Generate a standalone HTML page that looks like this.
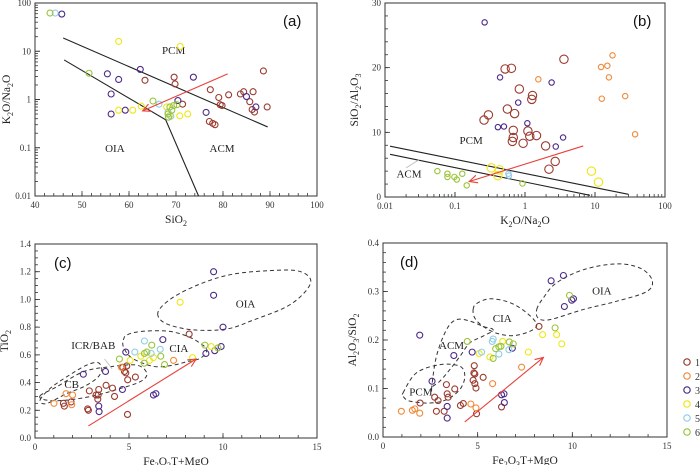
<!DOCTYPE html>
<html><head><meta charset="utf-8"><style>
html,body{margin:0;padding:0;background:#fff;}
svg{display:block;font-family:"Liberation Serif",serif;}
</style></head><body>
<svg id="fig" width="700" height="465" viewBox="0 0 700 465" xmlns="http://www.w3.org/2000/svg"></svg>
<script>
// ---------- Panel (a) data: SiO2 vs K2O/Na2O ----------
const a_x1=[63.4,69.6,69.8,71.4,77.3,79.1,79.4,79.8,81.2,83.7,84.4,85.7,86.4,86.2,86.7,88.6,89.4,77.1,77.8,78.3];
const a_y1=[2.5,2.9,2.1,0.8,1.6,1.1,0.78,0.75,1.25,1.3,1.45,0.9,1.45,0.62,0.55,3.9,0.7,0.35,0.32,0.3];
const a_x3=[45.7,55.4,57.8,62.4,56.2,56.2,59.2,73.7,70.4,76.4,85.0,87.0];
const a_y3=[59,3.4,2.6,4.2,1.3,0.5,0.6,2.9,0.95,0.54,1.15,0.7];
const a_x4=[57.8,70.9,57.8,60.8,62.6,68.7,70.8,72.5,68.0];
const a_y4=[16,12.6,0.6,0.6,0.73,0.47,0.46,0.5,0.7];
const a_x5=[44.3,66.4,68.9,68.3];
const a_y5=[62,0.8,0.45,0.55];
const a_x6=[43.2,51.5,65.1,68.7,69.5,70.2,68.3,68.4,69.1];
const a_y6=[62,3.5,0.93,0.7,0.75,0.78,0.5,0.43,0.6];
const a_xticks=[40,50,60,70,80,90,100];
const a_yticks=[0.01,0.1,1,10,100];
const a_ylabels=["0.01","0.1","1","10","100"];
// ---------- Panel (b) data: K2O/Na2O vs SiO2/Al2O3 ----------
const b_x1=[0.52,0.64,3.6,0.83,1.28,1.25,0.56,0.71,0.30,0.26,0.68,1.1,1.17,1.46,0.68,0.66,0.94,1.97,2.7,2.2];
const b_y1=[19.8,19.9,21.3,16.7,15.7,15.1,13.6,12.9,12.7,11.9,10.3,10.2,9.4,9.5,9.2,8.6,8.3,7.9,5.5,4.3];
const b_x2=[1.55,12.2,15.0,17.8,15.8,12.5,27,37.4];
const b_y2=[18.2,20.1,20.3,21.9,18.5,15.2,15.6,9.7];
const b_x3=[0.265,0.44,2.4,0.8,0.41,0.5,1.08,3.5,2.75];
const b_y3=[27.0,18.5,17.7,14.6,10.8,10.9,11.4,9.2,7.8];
const b_x4=[0.33,0.43,0.41,8.9,11.2];
const b_y4=[4.5,4.2,3.3,4.0,2.3];
const b_x5=[0.58,0.59];
const b_y5=[3.6,3.3];
const b_x6=[0.056,0.078,0.078,0.098,0.106,0.127,0.147,0.92];
const b_y6=[4.0,3.6,3.1,3.1,2.7,3.6,1.8,2.1];
const b_xticks=[0.01,0.1,1,10,100];
const b_xlabels=["0.01","0.1","1","10","100"];
const b_yticks=[0,10,20,30];
// ---------- Panel (c) data: Fe2O3T+MgO vs TiO2 ----------
const c_x1=[8.2,4.67,4.88,4.76,4.83,4.93,5.34,3.78,4.12,4.23,3.39,3.36,3.25,3.34,2.89,2.80,2.84,1.51,1.56,1.92,4.92];
const c_y1=[0.75,0.51,0.52,0.48,0.47,0.42,0.44,0.38,0.36,0.30,0.35,0.31,0.31,0.28,0.34,0.21,0.20,0.25,0.23,0.26,0.17];
const c_x2=[1.01,1.65,2.0,1.95,7.37,4.6];
const c_y2=[0.25,0.32,0.31,0.24,0.56,0.51];
const c_x3=[9.5,9.5,10.0,6.8,4.83,2.57,3.75,4.65,3.39,3.41,6.3,6.43,9.09,9.56,9.9];
const c_y3=[1.20,1.03,0.80,0.71,0.62,0.46,0.48,0.35,0.23,0.19,0.31,0.32,0.61,0.63,0.66];
const c_x4=[7.72,8.38,5.06,5.63,6.3,6.09,9.37];
const c_y4=[0.98,0.58,0.56,0.59,0.58,0.56,0.66];
const c_x5=[5.31,5.82,6.66,6.18];
const c_y5=[0.62,0.70,0.64,0.61];
const c_x6=[4.49,5.82,5.95,6.21,5.81,6.69,6.89,9.04,9.73];
const c_y6=[0.57,0.61,0.62,0.67,0.54,0.59,0.53,0.67,0.65];
const c_xticks=[0,5,10,15];
const c_yticks=[0,0.2,0.4,0.6,0.8,1.0,1.2,1.4];
const c_ylabels=["0.0","0.2","0.4","0.6","0.8","1.0","1.2","1.4"];
// ---------- Panel (d) data: Fe2O3T+MgO vs Al2O3/SiO2 ----------
const d_x1=[8.24,2.73,2.91,1.96,2.82,3.23,3.35,3.39,3.44,3.79,4.09,4.24,4.82,4.80,4.85,4.76,4.85,4.91,5.29,4.94,6.26];
const d_y1=[0.228,0.082,0.075,0.070,0.053,0.053,0.108,0.089,0.082,0.099,0.065,0.069,0.147,0.132,0.130,0.117,0.110,0.101,0.123,0.048,0.062];
const d_x2=[0.97,1.55,1.68,1.94,4.64,4.91,5.79,7.32];
const d_y2=[0.053,0.055,0.058,0.049,0.068,0.060,0.110,0.144];
const d_x3=[1.94,2.59,3.74,4.71,3.39,3.39,6.26,6.39,6.41,6.83,8.88,9.53,9.58,9.97,10.06];
const d_y3=[0.210,0.115,0.168,0.175,0.063,0.039,0.087,0.089,0.071,0.183,0.322,0.333,0.269,0.282,0.285];
const d_x4=[5.08,6.32,7.68,8.43,9.17,9.44,5.65];
const d_y4=[0.172,0.197,0.175,0.211,0.211,0.192,0.165];
const d_x5=[5.21,5.77,6.12,6.65,5.82];
const d_y5=[0.175,0.197,0.171,0.180,0.202];
const d_x6=[4.45,5.82,5.95,6.12,6.23,6.67,6.88,9.09,9.85];
const d_y6=[0.197,0.162,0.182,0.186,0.187,0.196,0.192,0.225,0.292];
const d_xticks=[0,5,10,15];
const d_yticks=[0,0.1,0.2,0.3,0.4];
const d_ylabels=["0.0","0.1","0.2","0.3","0.4"];
const legendLabels=["1","2","3","4","5","6"];
const colors=["#9b3a2e","#f08a3a","#4b2a8a","#f0e614","#92cde8","#9ac43a"];

const NS="http://www.w3.org/2000/svg";
const svg=document.getElementById('fig');
function mk(tag,attrs,parent){const e=document.createElementNS(NS,tag);for(const k in attrs)e.setAttribute(k,attrs[k]);(parent||svg).appendChild(e);return e;}
function scale(d0,d1,p0,p1,log){return v=>{if(log){return p0+(Math.log10(v)-Math.log10(d0))/(Math.log10(d1)-Math.log10(d0))*(p1-p0);}return p0+(v-d0)/(d1-d0)*(p1-p0);};}

function panel(cfg){
  const g=mk('g',{});
  
  
  const X=scale(cfg.xd[0],cfg.xd[1],cfg.px[0],cfg.px[1],cfg.xlog);
  const Y=scale(cfg.yd[0],cfg.yd[1],cfg.py[0],cfg.py[1],cfg.ylog);
  const fr=mk('rect',{x:cfg.px[0],y:cfg.py[1],width:cfg.px[1]-cfg.px[0],height:cfg.py[0]-cfg.py[1],fill:'none',stroke:'#333','stroke-width':1},g);
  
  
  const mt=[];
  if(cfg.xlog){for(let d=Math.log10(cfg.xd[0]);d<Math.log10(cfg.xd[1]);d++){for(let m=1;m<10;m++)mt.push(['x',Math.pow(10,d)*m,m==1?5:3]);}}
  else{for(let v=cfg.xd[0];v<=cfg.xd[1]+1e-9;v+=cfg.xminor)mt.push(['x',v,3]);}
  if(cfg.ylog){for(let d=Math.log10(cfg.yd[0]);d<Math.log10(cfg.yd[1]);d++){for(let m=1;m<10;m++)mt.push(['y',Math.pow(10,d)*m,m==1?5:3]);}}
  else{for(let v=cfg.yd[0];v<=cfg.yd[1]+1e-9;v+=cfg.yminor)mt.push(['y',v,3]);}
  cfg.xt.forEach(v=>mt.push(['x',v,5]));cfg.yt.forEach(v=>mt.push(['y',v,5]));
  mt.forEach(t=>{
    if(t[0]=='x'){const x=X(t[1]);const l=mk('line',{x1:x,x2:x,y1:cfg.py[0],y2:cfg.py[0]-t[2],stroke:'#333','stroke-width':0.8},g);}
    else{const y=Y(t[1]);const l=mk('line',{x1:cfg.px[0],x2:cfg.px[0]+t[2],y1:y,y2:y,stroke:'#333','stroke-width':0.8},g);}
  });
  cfg.xt.forEach((v,i)=>{const t=mk('text',{x:X(v),y:cfg.py[0]+12,'font-size':9,'text-anchor':'middle',fill:'#333'},g);t.textContent=cfg.xl?cfg.xl[i]:String(v);});
  cfg.yt.forEach((v,i)=>{const t=mk('text',{x:cfg.px[0]-4,y:Y(v)+3,'font-size':9,'text-anchor':'end',fill:'#333'},g);t.textContent=cfg.yl?cfg.yl[i]:String(v);});
  const xt=mk('text',{x:(cfg.px[0]+cfg.px[1])/2,y:cfg.py[0]+27,'font-size':11.5,'text-anchor':'middle',fill:'#222'},g);
  xt.innerHTML=cfg.xtitle;
  const yc=(cfg.py[0]+cfg.py[1])/2;
  const yt=mk('text',{x:0,y:0,'font-size':11.5,'text-anchor':'middle',fill:'#222',transform:`translate(${cfg.ytx},${yc}) rotate(-90)`},g);
  yt.innerHTML=cfg.ytitle;
  (cfg.lines||[]).forEach(ln=>{const p=mk('polyline',{points:ln.map(q=>X(q[0])+','+Y(q[1])).join(' '),fill:'none',stroke:'#222','stroke-width':1.1},g);});
  (cfg.regions||[]).forEach(r=>{const pts=r.pts.map(q=>[X(q[0]),Y(q[1])]);
    const n=pts.length;let d='M'+pts[0][0]+','+pts[0][1];
    for(let i=0;i<n;i++){const p0=pts[(i-1+n)%n],p1=pts[i],p2=pts[(i+1)%n],p3=pts[(i+2)%n];
      d+=` C${p1[0]+(p2[0]-p0[0])/6},${p1[1]+(p2[1]-p0[1])/6} ${p2[0]-(p3[0]-p1[0])/6},${p2[1]-(p3[1]-p1[1])/6} ${p2[0]},${p2[1]}`;}
    const p=mk('path',{d:d,fill:'none',stroke:'#333','stroke-width':1,'stroke-dasharray':'4,3'},g);
    });
  (cfg.labels||[]).forEach(lb=>{const t=mk('text',{x:X(lb[1]),y:Y(lb[2])+4,'font-size':11,'text-anchor':'middle',fill:'#222'},g);t.textContent=lb[0];});
  cfg.series.forEach((s,i)=>{if(!s)return;const xs=s[0],ys=s[1],r=s[2]||3;
    for(let k=0;k<xs.length;k++){const c=mk('circle',{cx:X(xs[k]),cy:Y(ys[k]),r:r,fill:'none',stroke:colors[i],'stroke-width':1.1},g);
      
      }});
  if(cfg.arrow){const a=cfg.arrow;const x1=X(a[0][0]),y1=Y(a[0][1]),x2=X(a[1][0]),y2=Y(a[1][1]);
    const ang=Math.atan2(y2-y1,x2-x1),L=9;
    const l=mk('line',{x1:x1,y1:y1,x2:x2,y2:y2,stroke:'#e8413a','stroke-width':1.1},g);
    const h=mk('polyline',{points:`${x2-L*Math.cos(ang-0.45)},${y2-L*Math.sin(ang-0.45)} ${x2},${y2} ${x2-L*Math.cos(ang+0.45)},${y2-L*Math.sin(ang+0.45)}`,fill:'none',stroke:'#e8413a','stroke-width':1.1},g);
    }
  const pl=mk('text',{x:cfg.tag[0],y:cfg.tag[1],'font-size':15,'font-family':'Liberation Sans, sans-serif',fill:'#111'},g);
  pl.textContent=cfg.tagText;
  return {X,Y,g};
}
const sub=s=>`<tspan font-size="8" baseline-shift="-3">${s}</tspan>`;

panel({name:'panel-a',px:[35,317],py:[196,3],xd:[40,100],yd:[0.01,100],ylog:true,xminor:2,xt:a_xticks,yt:a_yticks,yl:a_ylabels,
  xtitle:`SiO${sub(2)}`,ytitle:`K${sub(2)}O/Na${sub(2)}O`,ytx:10,
  lines:[[[46.0,18.8],[89.5,0.27]],[[46.2,6.6],[67.8,0.38],[74.8,0.01]]],
  labels:[['PCM',69.5,10.5],['OIA',57,0.1],['ACM',79.8,0.1]],
  series:[[a_x1,a_y1,3],null,[a_x3,a_y3,3],[a_x4,a_y4,3],[a_x5,a_y5,3],[a_x6,a_y6,3]],
  arrow:[[81,3.4],[62.9,0.58]],tag:[283,26],tagText:'(a)'});
const pb=panel({name:'panel-b',px:[385,665],py:[197,3],xd:[0.01,100],yd:[0,30],xlog:true,yminor:2,xt:b_xticks,xl:b_xlabels,yt:b_yticks,
  xtitle:`K${sub(2)}O/Na${sub(2)}O`,ytitle:`SiO${sub(2)}/Al${sub(2)}O${sub(3)}`,ytx:358,
  lines:[[[0.0118,7.86],[30,0.41]],[[0.0118,6.6],[8.5,0.26]]],
  labels:[['PCM',0.17,8.8],['ACM',0.022,3.6]],
  series:[[b_x1,b_y1,4.2],[b_x2,b_y2,2.7],[b_x3,b_y3,2.7],[b_x4,b_y4,4.2],[b_x5,b_y5,2.7],[b_x6,b_y6,2.7]],
  arrow:[[6.8,7.9],[0.16,2.4]],tag:[633,26],tagText:'(b)'});
const pc=panel({name:'panel-c',px:[35,317],py:[438,244],xd:[0,15],yd:[0,1.4],xminor:1,yminor:0.05,xt:c_xticks,yt:c_yticks,yl:c_ylabels,
  xtitle:`Fe${sub(2)}O${sub(3)}T+MgO`,ytitle:`TiO${sub(2)}`,ytx:8,
  regions:[{name:'oia',pts:[[6.53,0.888],[6.83,0.961],[7.72,1.045],[9.14,1.13],[10.56,1.183],[12.34,1.207],[13.94,1.207],[14.65,1.147],[14.38,1.057],[13.4,0.949],[11.63,0.852],[10.21,0.787],[8.43,0.78],[7.01,0.823]]},
    {name:'cia',pts:[[4.7,0.707],[4.88,0.743],[5.59,0.768],[7.01,0.772],[8.08,0.736],[8.79,0.683],[9.14,0.635],[8.79,0.575],[8.08,0.551],[7.37,0.526],[6.48,0.514],[5.77,0.538],[5.06,0.587],[4.7,0.659]]},
    {name:'icr-bab',pts:[[0.27,0.304],[1.15,0.369],[2.57,0.478],[3.99,0.514],[5.41,0.526],[5.95,0.466],[5.59,0.406],[4.35,0.35],[3.11,0.304],[1.69,0.273],[0.62,0.273]]},
    {name:'cb',pts:[[0.27,0.273],[0.8,0.357],[1.69,0.442],[2.75,0.526],[3.37,0.543],[3.55,0.49],[3.28,0.43],[2.57,0.369],[1.69,0.321],[0.62,0.249]]}],
  labels:[['OIA',11.2,0.97],['CIA',7.65,0.65],['ICR/BAB',3.1,0.67],['CB',1.95,0.39]],
  series:[[c_x1,c_y1,3],[c_x2,c_y2,3],[c_x3,c_y3,3],[c_x4,c_y4,3],[c_x5,c_y5,3],[c_x6,c_y6,3]],
  arrow:[[2.84,0.087],[8.57,0.57]],tag:[54,268],tagText:'(c)'});
const pd=panel({name:'panel-d',px:[383,667],py:[437,243],xd:[0,15],yd:[0,0.4],xminor:1,yminor:0.02,xt:d_xticks,yt:d_yticks,yl:d_ylabels,
  xtitle:`Fe${sub(2)}O${sub(3)}T+MgO`,ytitle:`Al${sub(2)}O${sub(3)}/SiO${sub(2)}`,ytx:356,
  regions:[{name:'oia',pts:[[8.12,0.263],[8.47,0.287],[9.17,0.318],[10.59,0.345],[12.35,0.357],[13.59,0.348],[14.21,0.324],[13.94,0.3],[12.35,0.28],[10.59,0.263],[8.82,0.242],[8.2,0.245]]},
    {name:'cia',pts:[[4.76,0.263],[4.94,0.275],[5.65,0.285],[6.71,0.277],[7.59,0.256],[8.12,0.232],[7.76,0.218],[6.88,0.209],[6.0,0.214],[5.29,0.228],[4.85,0.245]]},
    {name:'acm',pts:[[2.56,0.098],[2.82,0.166],[3.35,0.221],[3.88,0.242],[4.59,0.239],[5.29,0.228],[5.82,0.221],[5.29,0.208],[4.59,0.194],[4.06,0.166],[3.53,0.139],[3.0,0.115],[2.65,0.105]]},
    {name:'pcm',pts:[[1.06,0.091],[1.76,0.132],[2.99,0.149],[4.06,0.146],[4.32,0.125],[4.06,0.098],[3.35,0.077],[2.47,0.07],[1.41,0.074],[1.06,0.084]]}],
  labels:[['OIA',11.56,0.302],['CIA',6.3,0.245],['ACM',3.62,0.19],['PCM',2.0,0.094]],
  series:[[d_x1,d_y1,3],[d_x2,d_y2,3],[d_x3,d_y3,3],[d_x4,d_y4,3],[d_x5,d_y5,3],[d_x6,d_y6,3]],
  arrow:[[4.32,0.031],[8.47,0.164]],tag:[400,267],tagText:'(d)'});
const ll1=mk('line',{x1:pb.X(0.02),y1:pb.Y(4.5),x2:pb.X(0.031),y2:pb.Y(5.8),stroke:'#bbb','stroke-width':0.8});


const ll2=mk('line',{x1:pc.X(3.7),y1:pc.Y(0.57),x2:pc.X(4.1),y2:pc.Y(0.5),stroke:'#bbb','stroke-width':0.8});


const lg=mk('g',{});


legendLabels.forEach((lab,i)=>{const y=362+i*14;
  const c=mk('circle',{cx:687,cy:y,r:3.2,fill:'none',stroke:colors[i],'stroke-width':1.2},lg);
  
  
  const t=mk('text',{x:695,y:y+4,'font-size':10,fill:'#333'},lg);t.textContent=lab;
  
  });
</script>
</body></html>
